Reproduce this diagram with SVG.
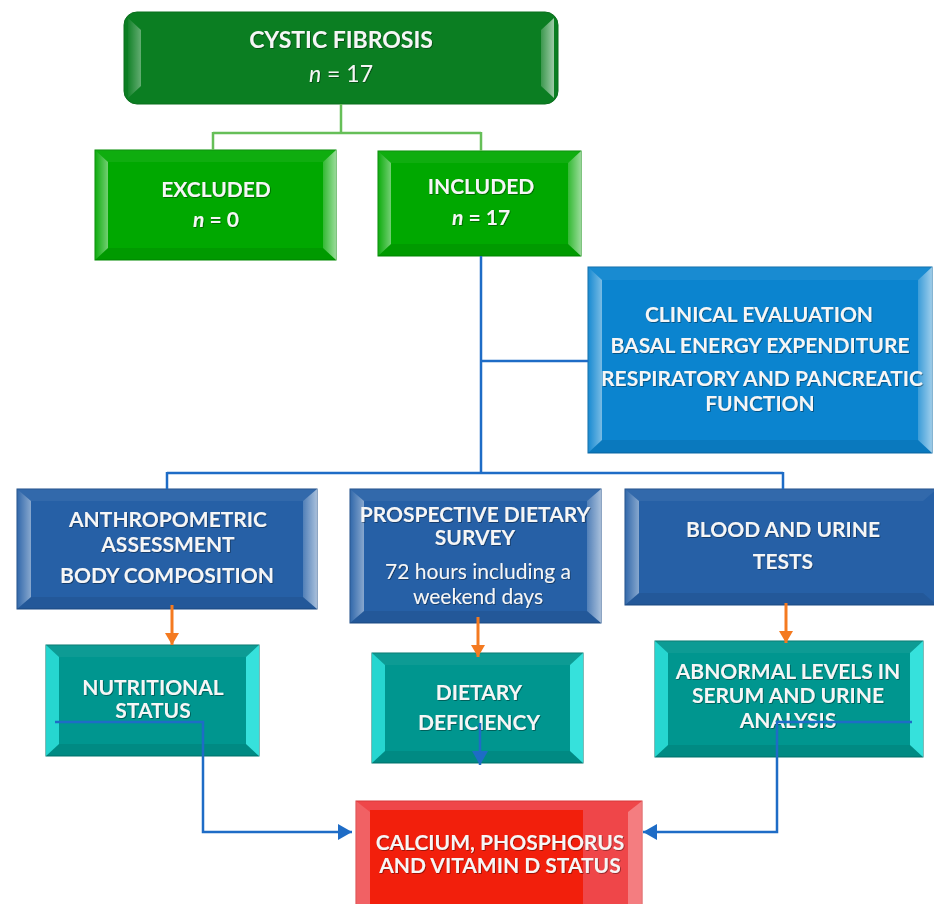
<svg xmlns="http://www.w3.org/2000/svg" width="934" height="904" viewBox="0 0 934 904">
<defs>
<style>
.t{font-family:Lato,"Open Sans","Liberation Sans",sans-serif;font-weight:bold;font-size:21px;fill:#f6f6f6;text-anchor:middle;filter:url(#sh)}
.r{font-weight:normal;font-size:21px}
.big{font-size:23px}
.c{fill:none;stroke-width:2.5}
.g{stroke:#66bf58}
.b{stroke:#1e6cc6}
.o{stroke:#f47a20;stroke-width:3}
</style>
<filter id="sh" x="-5%" y="-20%" width="110%" height="150%"><feDropShadow dx="0.8" dy="0.8" stdDeviation="0.6" flood-color="#000" flood-opacity="0.45"/></filter>
<linearGradient id="gl" x1="0" x2="1" y1="0" y2="0"><stop offset="0" stop-color="#fff" stop-opacity="0.05"/><stop offset="1" stop-color="#fff" stop-opacity="0.45"/></linearGradient>
<linearGradient id="gr" x1="0" x2="1" y1="0" y2="0"><stop offset="0" stop-color="#fff" stop-opacity="0.2"/><stop offset="1" stop-color="#fff" stop-opacity="0.6"/></linearGradient>
<marker id="ao" markerUnits="userSpaceOnUse" markerWidth="14" markerHeight="14" refX="12" refY="7" orient="auto"><path d="M0,0 L12,7 L0,14 Z" fill="#f47a20"/></marker>
<marker id="ab" markerUnits="userSpaceOnUse" markerWidth="16" markerHeight="16" refX="14" refY="8" orient="auto"><path d="M0,0 L14,8 L0,16 Z" fill="#1e6cc6"/></marker>
</defs>
<rect width="934" height="904" fill="#fff"/>

<g id="cystic-fibrosis">
<rect x="124" y="12" width="434" height="92" rx="13" fill="#0b7e22" stroke="#0a6e1d"/>
<path d="M128 18 L141 30 V86 L128 98 Z" fill="url(#gl)" opacity="0.8"/>
<path d="M554 18 L541 30 V86 L554 98 Z" fill="url(#gr)"/>
<text class="t big" x="341" y="48">CYSTIC FIBROSIS</text>
<text class="t big r" x="341" y="82"><tspan font-style="italic">n</tspan> = 17</text>
</g>

<g id="excluded">
<rect x="95" y="150" width="241" height="110" fill="#00a800" stroke="#008a00"/>
<path d="M95 150 H336 L323 162 H108 Z" fill="#fff" opacity="0.06"/>
<path d="M95 260 H336 L323 248 H108 Z" fill="#000" opacity="0.08"/>
<path d="M95 150 L108 162 V248 L95 260 Z" fill="url(#gl)"/>
<path d="M336 150 L323 162 V248 L336 260 Z" fill="url(#gr)"/>
<text class="t" x="216" y="197">EXCLUDED</text>
<text class="t" x="216" y="227"><tspan font-style="italic">n</tspan> = 0</text>
</g>

<g id="included">
<rect x="378" y="151" width="203" height="105" fill="#00a800" stroke="#008a00"/>
<path d="M378 151 H581 L568 163 H391 Z" fill="#fff" opacity="0.06"/>
<path d="M378 256 H581 L568 244 H391 Z" fill="#000" opacity="0.08"/>
<path d="M378 151 L391 163 V244 L378 256 Z" fill="url(#gl)"/>
<path d="M581 151 L568 163 V244 L581 256 Z" fill="url(#gr)"/>
<text class="t" x="481" y="194">INCLUDED</text>
<text class="t" x="481" y="225"><tspan font-style="italic">n</tspan> = 17</text>
</g>

<g id="clinical-evaluation">
<rect x="588" y="267" width="344" height="186" fill="#0b84cf" stroke="#0a6aa8"/>
<path d="M588 267 H932 L918 280 H602 Z" fill="#fff" opacity="0.06"/>
<path d="M588 453 H932 L918 440 H602 Z" fill="#000" opacity="0.08"/>
<path d="M588 267 L602 280 V440 L588 453 Z" fill="url(#gl)"/>
<path d="M932 267 L918 280 V440 L932 453 Z" fill="url(#gr)"/>
<text class="t" x="759" y="322">CLINICAL EVALUATION</text>
<text class="t" x="760" y="353">BASAL ENERGY EXPENDITURE</text>
<text class="t" x="762" y="386">RESPIRATORY AND PANCREATIC</text>
<text class="t" x="760" y="411">FUNCTION</text>
</g>

<g id="anthropometric">
<rect x="17" y="489" width="300" height="120" fill="#2660a6" stroke="#1d4d88"/>
<path d="M17 489 H317 L303 501 H31 Z" fill="#fff" opacity="0.06"/>
<path d="M17 609 H317 L303 597 H31 Z" fill="#000" opacity="0.08"/>
<path d="M17 489 L31 501 V597 L17 609 Z" fill="url(#gl)"/>
<path d="M317 489 L303 501 V597 L317 609 Z" fill="url(#gr)"/>
<text class="t" x="168" y="527">ANTHROPOMETRIC</text>
<text class="t" x="168" y="552">ASSESSMENT</text>
<text class="t" x="167" y="583">BODY COMPOSITION</text>
</g>

<g id="dietary-survey">
<rect x="350" y="489" width="251" height="134" fill="#2660a6" stroke="#1d4d88"/>
<path d="M350 489 H601 L587 501 H364 Z" fill="#fff" opacity="0.06"/>
<path d="M350 623 H601 L587 611 H364 Z" fill="#000" opacity="0.08"/>
<path d="M350 489 L364 501 V611 L350 623 Z" fill="url(#gl)"/>
<path d="M601 489 L587 501 V611 L601 623 Z" fill="url(#gr)"/>
<text class="t" x="475" y="522">PROSPECTIVE DIETARY</text>
<text class="t" x="475" y="545">SURVEY</text>
<text class="t r" x="478" y="579">72 hours including a</text>
<text class="t r" x="478" y="604">weekend days</text>
</g>

<g id="blood-urine">
<rect x="625" y="489" width="312" height="116" fill="#2660a6" stroke="#1d4d88"/>
<path d="M625 489 H937 L923 501 H639 Z" fill="#fff" opacity="0.06"/>
<path d="M625 605 H937 L923 593 H639 Z" fill="#000" opacity="0.08"/>
<path d="M625 489 L639 501 V593 L625 605 Z" fill="url(#gl)"/>
<text class="t" x="783" y="537">BLOOD AND URINE</text>
<text class="t" x="783" y="569">TESTS</text>
</g>

<g id="nutritional-status">
<rect x="46" y="645" width="213" height="111" fill="#00968f" stroke="#00766f"/>
<path d="M46 645 H259 L246 657 H59 Z" fill="#fff" opacity="0.05"/>
<path d="M46 756 H259 L246 744 H59 Z" fill="#000" opacity="0.08"/>
<path d="M46 645 L59 657 V744 L46 756 Z" fill="#30e6e0" opacity="0.8"/>
<path d="M259 645 L246 657 V744 L259 756 Z" fill="#40eeea" opacity="0.85"/>
<text class="t" x="153" y="695">NUTRITIONAL</text>
<text class="t" x="153" y="718">STATUS</text>
</g>

<g id="dietary-deficiency">
<rect x="372" y="653" width="211" height="110" fill="#00968f" stroke="#00766f"/>
<path d="M372 653 H583 L570 665 H385 Z" fill="#fff" opacity="0.05"/>
<path d="M372 763 H583 L570 751 H385 Z" fill="#000" opacity="0.08"/>
<path d="M372 653 L385 665 V751 L372 763 Z" fill="#30e6e0" opacity="0.8"/>
<path d="M583 653 L570 665 V751 L583 763 Z" fill="#40eeea" opacity="0.85"/>
<text class="t" x="479" y="700">DIETARY</text>
<text class="t" x="479" y="730">DEFICIENCY</text>
</g>

<g id="abnormal-levels">
<rect x="655" y="641" width="268" height="116" fill="#00968f" stroke="#00766f"/>
<path d="M655 641 H923 L910 653 H668 Z" fill="#fff" opacity="0.05"/>
<path d="M655 757 H923 L910 745 H668 Z" fill="#000" opacity="0.08"/>
<path d="M655 641 L668 653 V745 L655 757 Z" fill="#30e6e0" opacity="0.8"/>
<path d="M923 641 L910 653 V745 L923 757 Z" fill="#40eeea" opacity="0.85"/>
<text class="t" x="788" y="679">ABNORMAL LEVELS IN</text>
<text class="t" x="788" y="703">SERUM AND URINE</text>
<text class="t" x="788" y="728">ANALYSIS</text>
</g>

<g id="calcium-status">
<rect x="356" y="801" width="286" height="110" fill="#ef4649" stroke="#d8383b"/>
<rect x="370" y="810" width="213" height="100" fill="#f21f0c"/>
<path d="M356 801 L370 812 V904 L356 904 Z" fill="#fff" opacity="0.15"/>
<path d="M642 801 L628 812 V904 L642 904 Z" fill="#fff" opacity="0.3"/>
<text class="t" x="500" y="850">CALCIUM, PHOSPHORUS</text>
<text class="t" x="500" y="873">AND VITAMIN D STATUS</text>
</g>

<g id="connectors">
<path class="c g" d="M341 104 V133 M213 133 H481 M213 132 V150 M481 132 V151"/>
<path class="c b" d="M481 256 V473 M481 361 H588 M167 473 H783 M167 472 V489 M783 472 V489"/>
<path class="c o" d="M172 605 V645" marker-end="url(#ao)"/>
<path class="c o" d="M478 617 V657" marker-end="url(#ao)"/>
<path class="c o" d="M786 603 V643" marker-end="url(#ao)"/>
<path class="c b" d="M55 722 H203 V832 H352" marker-end="url(#ab)"/>
<path class="c b" d="M912 722 H777 V832 H643" marker-end="url(#ab)"/>
<path class="c b" d="M480 723 V765" marker-end="url(#ab)"/>
</g>
</svg>
